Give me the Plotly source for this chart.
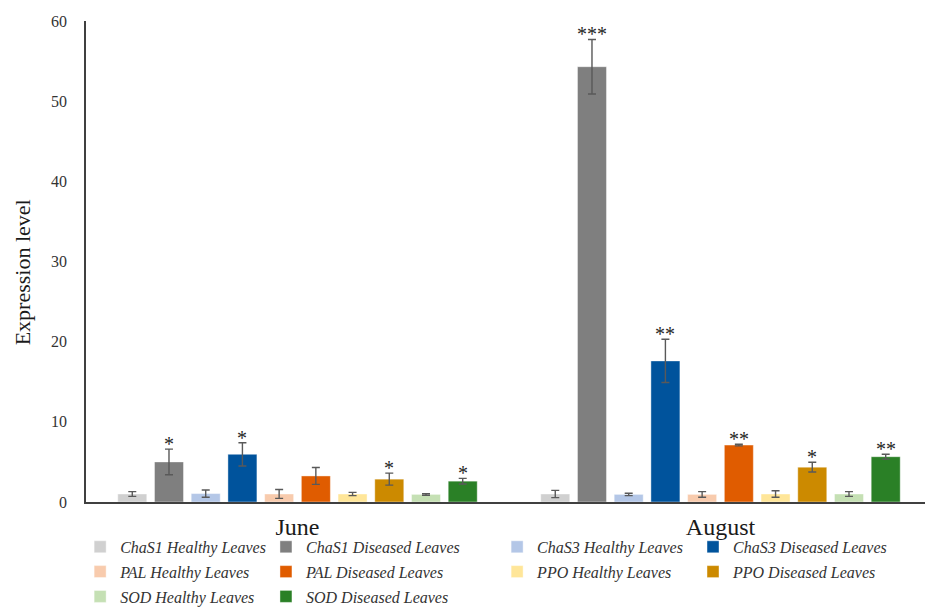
import plotly.graph_objects as go

# Sampling months
months = ["June", "August"]

# Series (gene / leaf condition), in drawing order
series = [
    "ChaS1 Healthy Leaves", "ChaS1 Diseased Leaves",
    "ChaS3 Healthy Leaves", "ChaS3 Diseased Leaves",
    "PAL Healthy Leaves", "PAL Diseased Leaves",
    "PPO Healthy Leaves", "PPO Diseased Leaves",
    "SOD Healthy Leaves", "SOD Diseased Leaves",
]

colors = [
    "#D0D0D0", "#7F7F7F",
    "#B4C7E7", "#00539C",
    "#F8CBAD", "#E05C00",
    "#FFE699", "#CC8A00",
    "#C5E0B4", "#2A8026",
]

# Relative expression level per series: [June, August]
chas1_healthy = [1.0, 1.0]
chas1_diseased = [5.0, 54.3]
chas3_healthy = [1.05, 0.95]
chas3_diseased = [5.95, 17.6]
pal_healthy = [1.0, 0.95]
pal_diseased = [3.25, 7.1]
ppo_healthy = [1.0, 1.0]
ppo_diseased = [2.85, 4.35]
sod_healthy = [0.95, 1.0]
sod_diseased = [2.6, 5.65]

# Standard errors per series: [June, August]
chas1_healthy_err = [0.3, 0.45]
chas1_diseased_err = [1.6, 3.4]
chas3_healthy_err = [0.45, 0.15]
chas3_diseased_err = [1.45, 2.7]
pal_healthy_err = [0.55, 0.35]
pal_diseased_err = [1.05, 0.1]
ppo_healthy_err = [0.2, 0.4]
ppo_diseased_err = [0.75, 0.6]
sod_healthy_err = [0.1, 0.3]
sod_diseased_err = [0.35, 0.3]

# Significance marks: [June, August]
chas1_healthy_sig = ["", ""]
chas1_diseased_sig = ["*", "***"]
chas3_healthy_sig = ["", ""]
chas3_diseased_sig = ["*", "**"]
pal_healthy_sig = ["", ""]
pal_diseased_sig = ["", "**"]
ppo_healthy_sig = ["", ""]
ppo_diseased_sig = ["*", "*"]
sod_healthy_sig = ["", ""]
sod_diseased_sig = ["*", "**"]

values = [chas1_healthy, chas1_diseased, chas3_healthy, chas3_diseased,
          pal_healthy, pal_diseased, ppo_healthy, ppo_diseased,
          sod_healthy, sod_diseased]
errors = [chas1_healthy_err, chas1_diseased_err, chas3_healthy_err,
          chas3_diseased_err, pal_healthy_err, pal_diseased_err,
          ppo_healthy_err, ppo_diseased_err, sod_healthy_err, sod_diseased_err]
marks = [chas1_healthy_sig, chas1_diseased_sig, chas3_healthy_sig,
         chas3_diseased_sig, pal_healthy_sig, pal_diseased_sig,
         ppo_healthy_sig, ppo_diseased_sig, sod_healthy_sig, sod_diseased_sig]

y_ticks = [0, 10, 20, 30, 40, 50, 60]

FONT = "Liberation Serif"
BARGAP = 0.132
BARGROUPGAP = 0.21

x_pos = list(range(len(months)))
legend_names = ["legend", "legend2", "legend3", "legend4"]

fig = go.Figure()
for i, name in enumerate(series):
    fig.add_trace(go.Bar(
        x=x_pos,
        y=values[i],
        name=name,
        marker=dict(color=colors[i], line=dict(width=0.6, color="rgba(255,255,255,0.7)")),
        error_y=dict(type="data", array=errors[i], visible=True,
                     color="#595959", thickness=1.4, width=4),
        legend=legend_names[i % 4],
        legendgroup=name,
    ))

# Significance asterisks above each error bar
slot = (1 - BARGAP) / len(series)
for i in range(len(series)):
    for g in x_pos:
        if marks[i][g]:
            fig.add_annotation(
                x=g + (i - (len(series) - 1) / 2) * slot,
                y=values[i][g] + errors[i][g],
                text=marks[i][g],
                showarrow=False,
                yanchor="bottom",
                yshift=-8,
                font=dict(family=FONT, size=20, color="#262626"),
            )

# Vertical axis title
fig.add_annotation(
    xref="paper", yref="paper",
    x=-0.076, y=0.478,
    xanchor="center", yanchor="middle",
    text="Expression level",
    textangle=-90,
    showarrow=False,
    font=dict(family=FONT, size=22, color="#1a1a1a"),
)

legend_common = dict(
    orientation="v",
    yanchor="top",
    xanchor="left",
    y=-0.058,
    bgcolor="rgba(0,0,0,0)",
    tracegroupgap=1,
    font=dict(family=FONT, size=16, color="#333333", style="italic"),
)

fig.update_layout(
    width=925,
    height=615,
    margin=dict(l=86, r=0, t=21, b=113),
    paper_bgcolor="white",
    plot_bgcolor="white",
    barmode="group",
    bargap=BARGAP,
    bargroupgap=BARGROUPGAP,
    showlegend=True,
    legend=dict(x=-0.007, **legend_common),
    legend2=dict(x=0.2145, **legend_common),
    legend3=dict(x=0.49, **legend_common),
    legend4=dict(x=0.7235, **legend_common),
    xaxis=dict(
        range=[-0.5, 1.4835],
        tickvals=x_pos,
        ticktext=months,
        showgrid=False,
        zeroline=False,
        showline=True,
        linecolor="#404040",
        linewidth=1.5,
        ticks="",
        ticklabelstandoff=2,
        tickfont=dict(family=FONT, size=24, color="#1a1a1a"),
    ),
    yaxis=dict(
        range=[0, 60],
        tickvals=y_ticks,
        showgrid=False,
        zeroline=False,
        showline=True,
        linecolor="#404040",
        linewidth=1.5,
        ticks="",
        ticklabelstandoff=14,
        tickfont=dict(family=FONT, size=16, color="#333333"),
    ),
)

fig.write_html("out.html")
